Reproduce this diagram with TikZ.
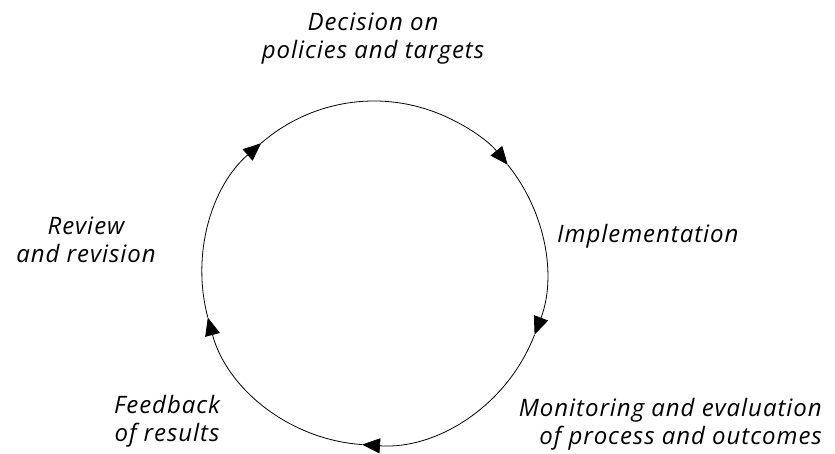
\documentclass[tikz,border=0pt]{standalone}
\usepackage{fontspec}
\setmainfont{Open Sans}[LetterSpace=4]
\usetikzlibrary{arrows.meta}

\tikzset{
    cycarc/.style={line width=0.8pt, -{Triangle[length=18pt,width=15pt]}},
    lbl/.style={inner sep=0pt, font=\fontsize{24}{28}\selectfont\itshape}
}

\begin{document}
\begin{tikzpicture}[x=1pt, y=1pt]
                \useasboundingbox (0,0) rectangle (835,454);
                \coordinate (c) at (374,181);

                \foreach \a/\b in {131/39, 39/-21, -21/-94, -94/-165, 195/131}
                    \draw[cycarc] (c) ++(\a:172) arc[start angle=\a, end angle=\b, radius=172];

                \node[lbl, align=center, anchor=base] (decide) at (373,395) {Decision on\\policies and targets};
                \node[lbl, anchor=base west] (impl) at (557,211) {Implementation};
                \node[lbl, align=right, anchor=base east] (monitor) at (822,9) {Monitoring and evaluation\\of process and outcomes};
                \node[lbl, align=center, anchor=base] (feedback) at (167,12) {Feedback\\of results};
                \node[lbl, align=center, anchor=base] (review) at (86,191) {Review\\and revision};
            \end{tikzpicture}
\end{document}
